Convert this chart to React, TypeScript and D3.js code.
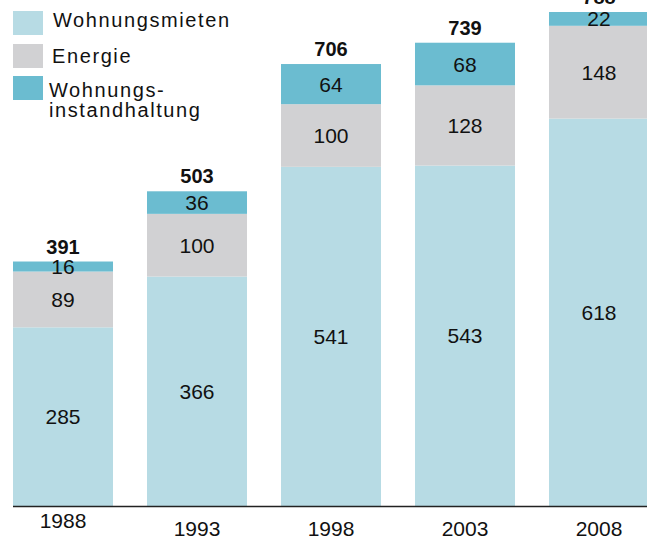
import React from "react";
import * as d3 from "d3";

const years = ["1988", "1993", "1998", "2003", "2008"];
const mieten = [285, 366, 541, 543, 618];
const energie = [89, 100, 100, 128, 148];
const instand = [16, 36, 64, 68, 22];
const totals = [391, 503, 706, 739, 788];
const seriesNames = ["Wohnungsmieten", "Energie", "Wohnungsinstandhaltung"];
const legendLabels = [["Wohnungsmieten"], ["Energie"], ["Wohnungs-", "instandhaltung"]];
const colors = ["#b7dbe4", "#d1d1d3", "#6bbcd0"];

const W = 647;
const H = 538;
const FONT = "'Liberation Sans', Arial, Helvetica, sans-serif";

export default function App() {
  const rows = years.map((y, i) => ({
    year: y,
    Wohnungsmieten: mieten[i],
    Energie: energie[i],
    Wohnungsinstandhaltung: instand[i],
  }));
  const stack = d3.stack<any>().keys(seriesNames)(rows);

  const x = d3.scaleBand().domain(years).range([13, 649]).paddingInner(0.2537).paddingOuter(0);
  const y = d3.scaleLinear().domain([0, 788]).range([506, 12]);

  return (
    <svg width={W} height={H} style={{ position: "absolute", left: 0, top: 0 }} fontFamily={FONT}>
      {stack.map((layer, li) =>
        layer.map((d, i) => {
          const x0 = x(years[i])!;
          const y0 = y(d[1]);
          const y1 = y(d[0]);
          const v = d[1] - d[0];
          return (
            <g key={`${li}-${i}`}>
              <rect x={x0} y={y0} width={x.bandwidth()} height={y1 - y0} fill={colors[li]} />
              <text
                x={x0 + x.bandwidth() / 2}
                y={(y0 + y1) / 2}
                dy="0.36em"
                textAnchor="middle"
                fontSize={21}
                fill="#111"
              >
                {v}
              </text>
            </g>
          );
        })
      )}
      {totals.map((t, i) => {
        const top = y(mieten[i] + energie[i] + instand[i]);
        return (
          <text
            key={`t${i}`}
            x={x(years[i])! + x.bandwidth() / 2}
            y={top - 8}
            textAnchor="middle"
            fontSize={20}
            fontWeight="bold"
            fill="#111"
          >
            {t}
          </text>
        );
      })}
      <line x1={13} x2={W} y1={506.5} y2={506.5} stroke="#222" strokeWidth={1.5} />
      {years.map((yr, i) => (
        <text
          key={`y${yr}`}
          x={x(yr)! + x.bandwidth() / 2}
          y={i === 0 ? 528 : 536}
          textAnchor="middle"
          fontSize={21}
          fill="#111"
        >
          {yr}
        </text>
      ))}
      {legendLabels.map((lines, i) => {
        const sy = [11, 44, 76][i];
        const tx = [53, 52, 49][i];
        const ty = [27, 63, 97][i];
        return (
          <g key={`l${i}`}>
            <rect x={13} y={sy} width={30} height={24} fill={colors[i]} />
            {lines.map((ln, j) => (
              <text key={j} x={tx} y={ty + j * 20} fontSize={20} letterSpacing={1.6} fill="#111">
                {ln}
              </text>
            ))}
          </g>
        );
      })}
    </svg>
  );
}
